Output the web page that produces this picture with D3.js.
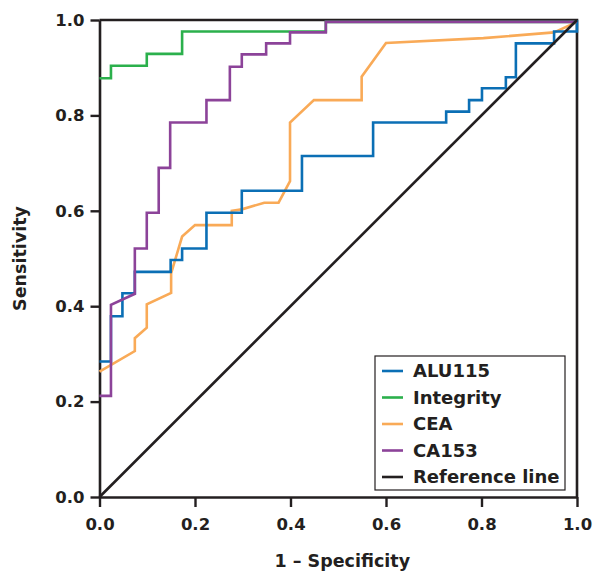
<!DOCTYPE html>
<html>
<head>
<meta charset="utf-8">
<script src="https://cdn.jsdelivr.net/npm/d3@7"></script>
<style>
  body { margin: 0; background: #fff; }
  text { font-family: "DejaVu Sans", sans-serif; font-weight: bold; fill: #231f20; }
</style>
</head>
<body>
<div id="viz"></div>
<script>
const width = 594;
const height = 571;
const margin = {top: 20, right: 17, bottom: 74, left: 99.5};

// ROC corner points: [1 - specificity, sensitivity]
const alu115 = [[0, 0.284], [0.024, 0.284], [0.024, 0.379], [0.048, 0.379], [0.048, 0.427],
  [0.074, 0.427], [0.074, 0.472], [0.149, 0.472], [0.149, 0.497], [0.173, 0.497], [0.173, 0.521],
  [0.224, 0.521], [0.224, 0.596], [0.298, 0.596], [0.298, 0.642], [0.424, 0.642], [0.424, 0.715],
  [0.573, 0.715], [0.573, 0.785], [0.726, 0.785], [0.726, 0.808], [0.774, 0.808], [0.774, 0.832],
  [0.801, 0.832], [0.801, 0.857], [0.851, 0.857], [0.851, 0.880], [0.872, 0.880], [0.872, 0.951],
  [0.952, 0.951], [0.952, 0.976], [1, 0.976], [1, 1]];
const integrity = [[0, 0.878], [0.024, 0.878], [0.024, 0.904], [0.099, 0.904], [0.099, 0.929],
  [0.173, 0.929], [0.173, 0.976], [0.474, 0.976], [0.474, 0.996], [1, 0.996]];
const cea = [[0, 0.263], [0.074, 0.306], [0.074, 0.333], [0.099, 0.355], [0.099, 0.404],
  [0.150, 0.428], [0.150, 0.469], [0.173, 0.546], [0.200, 0.570], [0.277, 0.570], [0.277, 0.600],
  [0.298, 0.603], [0.345, 0.617], [0.375, 0.617], [0.399, 0.662], [0.399, 0.785], [0.449, 0.832],
  [0.549, 0.832], [0.549, 0.881], [0.600, 0.952], [0.804, 0.962], [0.952, 0.974], [1, 0.996]];
const ca153 = [[0, 0.212], [0.024, 0.212], [0.024, 0.403], [0.074, 0.426], [0.074, 0.521],
  [0.099, 0.521], [0.099, 0.596], [0.124, 0.596], [0.124, 0.690], [0.148, 0.690], [0.148, 0.785],
  [0.224, 0.785], [0.224, 0.832], [0.273, 0.832], [0.273, 0.902], [0.298, 0.902], [0.298, 0.928],
  [0.349, 0.928], [0.349, 0.951], [0.399, 0.951], [0.399, 0.974], [0.474, 0.974], [0.474, 0.996], [1, 0.996]];
const referenceLine = [[0, 0], [1, 1]];

const seriesNames = ['ALU115', 'Integrity', 'CEA', 'CA153', 'Reference line'];
const seriesData = [alu115, integrity, cea, ca153, referenceLine];
const seriesColors = ['#0b6fb5', '#2bb04c', '#f9aa57', '#8c4399', '#231f20'];
const drawOrder = [2, 0, 1, 3, 4];
const tickValues = [0, 0.2, 0.4, 0.6, 0.8, 1.0];

const svg = d3.select('#viz')
  .append('svg')
  .attr('width', width)
  .attr('height', height);

const x = d3.scaleLinear()
  .domain([0, 1])
  .range([margin.left, width - margin.right]);

const y = d3.scaleLinear()
  .domain([0, 1])
  .range([height - margin.bottom, margin.top]);

const line = d3.line()
  .x(d => x(d[0]))
  .y(d => y(d[1]));

// frame on top and right
svg.append('path')
  .attr('d', `M${x(0)},${y(1)}H${x(1)}V${y(0)}`)
  .attr('fill', 'none')
  .attr('stroke', '#231f20')
  .attr('stroke-width', 2.6);

const xAxis = svg.append('g')
  .attr('transform', `translate(0, ${y(0)})`)
  .call(d3.axisBottom(x).tickValues(tickValues).tickFormat(d3.format('.1f'))
    .tickSize(10).tickPadding(11).tickSizeOuter(0));

const yAxis = svg.append('g')
  .attr('transform', `translate(${x(0)}, 0)`)
  .call(d3.axisLeft(y).tickValues(tickValues).tickFormat(d3.format('.1f'))
    .tickSize(9).tickPadding(6).tickSizeOuter(0));

[xAxis, yAxis].forEach(ax => {
  ax.select('.domain').attr('stroke', '#231f20').attr('stroke-width', 2.6);
  ax.selectAll('.tick line').attr('stroke', '#231f20').attr('stroke-width', 2.4);
  ax.selectAll('.tick text')
    .attr('fill', '#231f20')
    .style('font-family', '"DejaVu Sans", sans-serif')
    .style('font-weight', 'bold')
    .style('font-size', '16.5px');
});

// curves, drawn over the frame like the original
svg.append('g')
  .attr('class', 'curves')
  .selectAll('path')
  .data(drawOrder)
  .join('path')
    .attr('d', i => line(seriesData[i]))
    .attr('fill', 'none')
    .attr('stroke', i => seriesColors[i])
    .attr('stroke-width', 2.6)
    .attr('stroke-linejoin', 'miter');

// axis titles
svg.append('text')
  .attr('x', (x(0) + x(1)) / 2 + 4)
  .attr('y', 567)
  .attr('text-anchor', 'middle')
  .style('font-size', '17.5px')
  .text('1 – Specificity');

svg.append('text')
  .attr('transform', `translate(26, ${(y(0) + y(1)) / 2}) rotate(-90)`)
  .attr('text-anchor', 'middle')
  .style('font-size', '17.5px')
  .text('Sensitivity');

// legend
const legendX = 375;
const legendY = 356;
const rowHeight = 26.5;

const legend = svg.append('g')
  .attr('class', 'legend')
  .attr('transform', `translate(${legendX}, ${legendY})`);

legend.append('rect')
  .attr('x', 0)
  .attr('y', 0)
  .attr('width', 190)
  .attr('height', 134)
  .attr('fill', '#fff')
  .attr('stroke', '#231f20')
  .attr('stroke-width', 1.2);

const rows = legend.selectAll('.row')
  .data(seriesNames)
  .join('g')
    .attr('class', 'row')
    .attr('transform', (d, i) => `translate(0, ${15 + i * rowHeight})`);

rows.append('line')
  .attr('x1', 7)
  .attr('x2', 28)
  .attr('stroke', (d, i) => seriesColors[i])
  .attr('stroke-width', 2.6);

rows.append('text')
  .attr('x', 38)
  .attr('dy', '0.36em')
  .style('font-size', '18px')
  .text(d => d);
</script>
</body>
</html>
